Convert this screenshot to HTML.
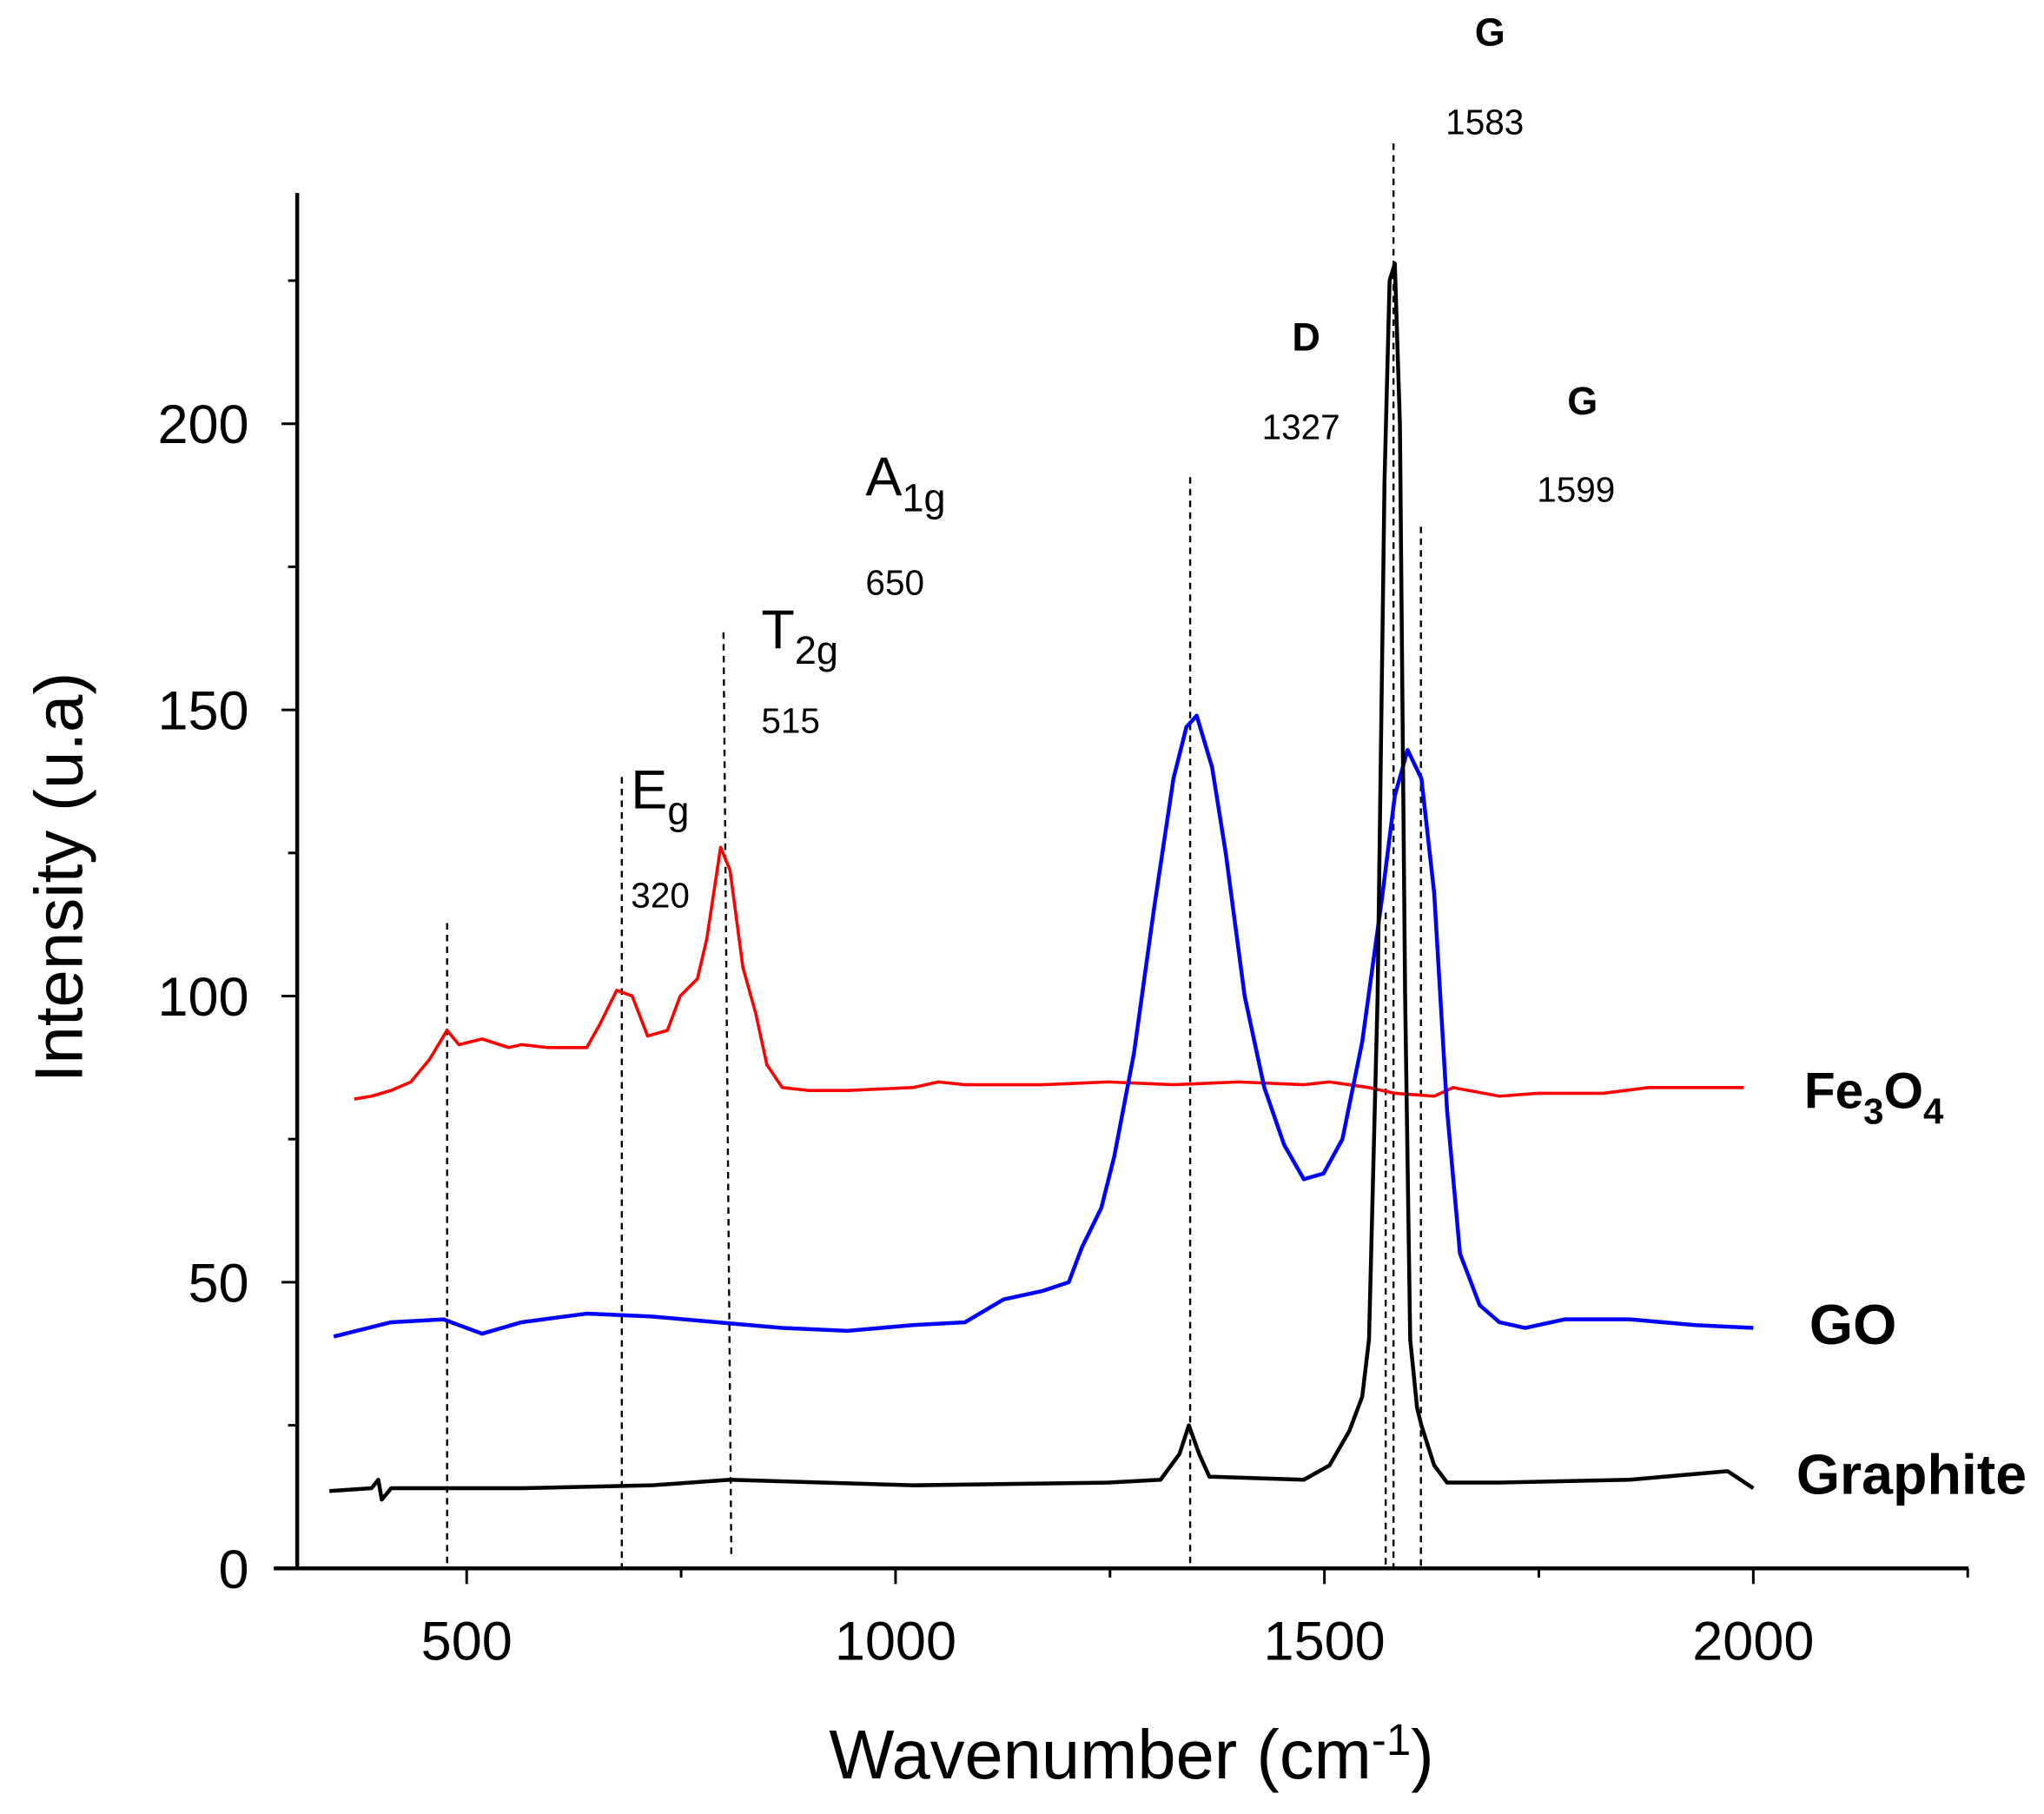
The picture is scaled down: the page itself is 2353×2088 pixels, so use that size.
<!DOCTYPE html>
<html><head><meta charset="utf-8"><style>
html,body{margin:0;padding:0;background:#fff;width:2353px;height:2088px;overflow:hidden}
svg{display:block}
text{font-family:"Liberation Sans",Arial,sans-serif;fill:#000}
</style></head><body>
<svg id="chart" width="2353" height="2088" viewBox="0 0 1568 1391.4" preserveAspectRatio="none" xmlns="http://www.w3.org/2000/svg">
<g id="plot"></g>
</svg>
<script>
const xTicks=[500,1000,1500,2000];
const yTicks=[0,50,100,150,200];
const feX=[369,389,412,435,457,477,491,518,549,564,594,640,655,675,693,711,734,749,769,780,796,807,822,837,850,868,898,944,1020,1050,1081,1172,1248,1324,1400,1476,1506,1552,1582,1628,1650,1704,1749,1825,1878,1932,1989];
const feY=[82,82.5,83.5,85,89,94,91.5,92.5,91,91.5,91,91,95,101,100,93,94,100,103,110,126,122,105,97,88,84,83.5,83.5,84,85,84.5,84.5,85,84.5,85,84.5,85,84,83,82.5,84,82.5,83,83,84,84,84];
const goX=[345,412,473,518,564,640,716,792,868,944,1020,1081,1126,1172,1202,1217,1240,1255,1278,1301,1324,1339,1351,1369,1385,1407,1430,1453,1476,1499,1521,1544,1567,1582,1597,1613,1628,1643,1658,1681,1704,1734,1780,1856,1932,2000];
const goY=[40.5,43,43.5,41,43,44.5,44,43,42,41.5,42.5,43,47,48.5,50,56,63,72,90,115,138,147,149,140,125,100,84,74,68,69,75,92,117,135,143,138,118,80,55,46,43,42,43.5,43.5,42.5,42];
const grX=[340,389,397,401,412,564,716,807,1020,1248,1309,1331,1342,1354,1366,1372,1476,1506,1529,1544,1552,1562,1570,1576,1582,1588,1594,1600,1608,1613,1628,1643,1704,1856,1970,2000];
const grY=[13.5,14,15.5,12,14,14,14.5,15.5,14.5,15,15.5,20,25,20,16,16,15.5,18,24,30,40,100,190,225,228,200,100,40,28,25,18,15,15,15.5,17,14];
const NS="http://www.w3.org/2000/svg";
const g=document.getElementById('plot');
const X=v=>358+(v-500)*0.658;
const Y=v=>1203-v*4.39;
function el(t,a,p){const e=document.createElementNS(NS,t);for(const k in a)e.setAttribute(k,a[k]);(p||g).appendChild(e);return e;}
let ax=el('line',{x1:228,y1:148,x2:228,y2:1204,stroke:'#000','stroke-width':3});


ax=el('line',{x1:210,y1:1203,x2:1510,y2:1203,stroke:'#000','stroke-width':3});


for(let v=500;v<=2250;v+=250){const major=v%500===0;const t=el('line',{x1:X(v),y1:1203,x2:X(v),y2:1203+(major?12:7),stroke:'#000','stroke-width':2});

}
for(let v=0;v<=225;v+=25){const major=v%50===0;const t=el('line',{x1:228,y1:Y(v),x2:228-(major?12:7),y2:Y(v),stroke:'#000','stroke-width':2});

}
xTicks.forEach(v=>{const t=el('text',{x:X(v),y:1273,'font-size':42,'text-anchor':'middle'});t.textContent=v;

});
yTicks.forEach(v=>{const t=el('text',{x:191,y:Y(v)+15,'font-size':42,'text-anchor':'end'});t.textContent=v;

});
[[343,708,343,1203],[477,596,477,1203],[555,485,561,1192],[913,366,913,1203],[1069,110,1069,1203],[1063,700,1063,1203],[1090,404,1090,1203]].forEach(d=>{
const l=el('line',{x1:d[0],y1:d[1],x2:d[2],y2:d[3],stroke:'#000','stroke-width':1.6,'stroke-dasharray':'5,4'});

});
function series(xs,ys,c,name,w){const d=xs.map((x,i)=>(i?'L':'M')+X(x).toFixed(1)+','+Y(ys[i]).toFixed(1)).join('');
const p=el('path',{d:d,fill:'none',stroke:c,'stroke-width':w,'stroke-linejoin':'round'});

}
series(feX,feY,'#f00','fe3o4-line',2.4);
series(goX,goY,'#00f','go-line',3);
series(grX,grY,'#000','graphite-line',3);
</script>
<svg style="position:absolute;left:0;top:0" width="2353" height="2088" viewBox="0 0 1568 1391.4" preserveAspectRatio="none">
<text x="868" y="1364" font-size="53" text-anchor="middle">Wavenumber (cm<tspan dy="-18" font-size="34">-1</tspan><tspan dy="18">)</tspan></text>
<text transform="translate(63,673) rotate(-90)" font-size="52" text-anchor="middle">Intensity (u.a)</text>
<text x="1143" y="35" font-size="30" font-weight="bold" text-anchor="middle">G</text>
<text x="1139" y="103" font-size="27" text-anchor="middle">1583</text>
<text x="1002" y="269" font-size="30" font-weight="bold" text-anchor="middle">D</text>
<text x="998" y="337" font-size="27" text-anchor="middle">1327</text>
<text x="1214" y="318" font-size="30" font-weight="bold" text-anchor="middle">G</text>
<text x="1209" y="385" font-size="27" text-anchor="middle">1599</text>
<text x="664" y="380" font-size="42">A<tspan dy="12" font-size="30">1g</tspan></text>
<text x="664" y="456" font-size="27">650</text>
<text x="584" y="497" font-size="42">T<tspan dy="12" font-size="30">2g</tspan></text>
<text x="584" y="562" font-size="27">515</text>
<text x="484" y="620" font-size="42">E<tspan dy="12" font-size="30">g</tspan></text>
<text x="484" y="696" font-size="27">320</text>
<text x="1384" y="850" font-size="39" font-weight="bold">Fe<tspan dy="12" font-size="28">3</tspan><tspan dy="-12">O</tspan><tspan dy="12" font-size="28">4</tspan></text>
<text x="1388" y="1031" font-size="43" font-weight="bold">GO</text>
<text x="1378" y="1146" font-size="43" font-weight="bold">Graphite</text>
</svg>
</body></html>
